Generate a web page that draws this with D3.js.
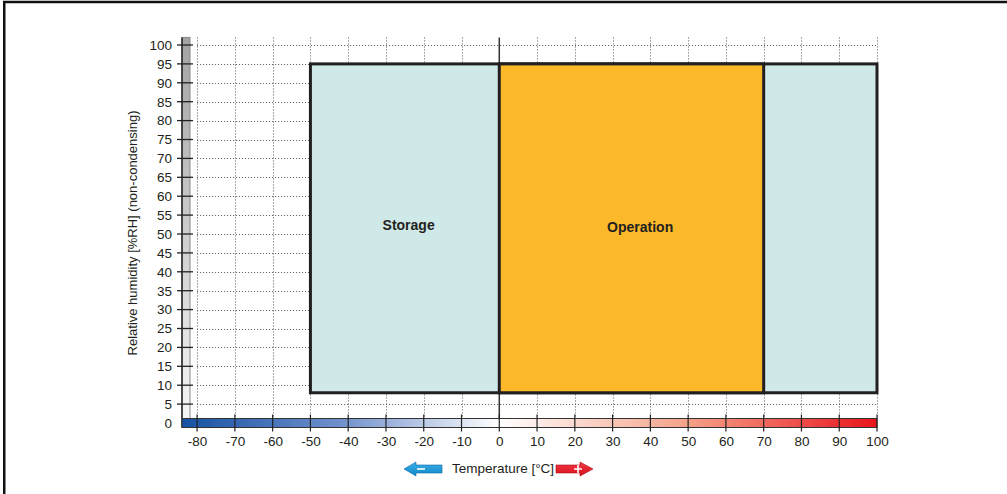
<!DOCTYPE html>
<html>
<head>
<meta charset="utf-8">
<script src="https://cdn.jsdelivr.net/npm/d3@7"></script>
<style>
  html, body { margin: 0; padding: 0; background: #fff; }
  svg { display: block; font-family: "Liberation Sans", Arial, Helvetica, sans-serif; }
</style>
</head>
<body>
<svg id="chart" width="1007" height="494"></svg>
<script>
// Climate envelope: temperature vs. relative humidity
const xTicks = [-80, -70, -60, -50, -40, -30, -20, -10, 0, 10, 20, 30, 40, 50, 60, 70, 80, 90, 100];
const yTicks = [0, 5, 10, 15, 20, 25, 30, 35, 40, 45, 50, 55, 60, 65, 70, 75, 80, 85, 90, 95, 100];
const zoneNames = ["Storage", "Operation"];
const zoneTempMin = [-50, 0];
const zoneTempMax = [100, 70];
const zoneHumMin = [8, 8];
const zoneHumMax = [95, 95];
const zoneLabelTemp = [-24, 37.3];
const zoneLabelHum = [52.1, 51.4];
const xTitle = "Temperature [°C]";
const yTitle = "Relative humidity [%RH] (non-condensing)";

const svg = d3.select("#chart");
const defs = svg.append("defs");

const x = d3.scaleLinear().domain([-84, 100]).range([182, 877]);
const y = d3.scaleLinear().domain([0, 100]).range([423, 45]);
const px = v => Math.round(v) + 0.5;   // snap hairlines to the pixel grid
const yTop = y(102);
const barY = y(0) - 4.5;
const fmt = d => String(d);

// outer frame (only top and left edges fall inside the canvas)
svg.append("rect")
  .attr("x", 4.25).attr("y", 2).attr("width", 1200).attr("height", 700)
  .attr("fill", "none").attr("stroke", "#111").attr("stroke-width", 2.5);

// gradients
const gGray = defs.append("linearGradient").attr("id", "gGray")
  .attr("x1", 0).attr("y1", 0).attr("x2", 0).attr("y2", 1);
gGray.append("stop").attr("offset", "0%").attr("stop-color", "#a3a3a3");
gGray.append("stop").attr("offset", "100%").attr("stop-color", "#f5f5f5");

const gTemp = defs.append("linearGradient").attr("id", "gTemp")
  .attr("x1", 0).attr("y1", 0).attr("x2", 1).attr("y2", 0);
const zeroOff = (x(0) - x(-84)) / (x(100) - x(-84));
gTemp.append("stop").attr("offset", 0).attr("stop-color", "#1652a3");
gTemp.append("stop").attr("offset", zeroOff * 0.5).attr("stop-color", "#7090cc");
gTemp.append("stop").attr("offset", zeroOff).attr("stop-color", "#ffffff");
gTemp.append("stop").attr("offset", zeroOff + (1 - zeroOff) * 0.5).attr("stop-color", "#f5a189");
gTemp.append("stop").attr("offset", 1).attr("stop-color", "#e8141c");

const gBlue = defs.append("linearGradient").attr("id", "gBlue")
  .attr("x1", 0).attr("y1", 0).attr("x2", 0).attr("y2", 1);
gBlue.append("stop").attr("offset", "0%").attr("stop-color", "#3fb0e8");
gBlue.append("stop").attr("offset", "100%").attr("stop-color", "#0d86c8");
const gRed = defs.append("linearGradient").attr("id", "gRed")
  .attr("x1", 0).attr("y1", 0).attr("x2", 0).attr("y2", 1);
gRed.append("stop").attr("offset", "0%").attr("stop-color", "#f03a45");
gRed.append("stop").attr("offset", "100%").attr("stop-color", "#d9111d");

// dotted grid
svg.append("g").selectAll("line").data(xTicks.filter(d => d !== 0)).join("line")
  .attr("x1", d => px(x(d))).attr("x2", d => px(x(d)))
  .attr("y1", yTop).attr("y2", barY)
  .attr("stroke", "#555").attr("stroke-width", 1).attr("stroke-dasharray", "1,2");
svg.append("g").selectAll("line").data(yTicks.filter(d => d > 0)).join("line")
  .attr("x1", x(-80)).attr("x2", x(100))
  .attr("y1", d => px(y(d))).attr("y2", d => px(y(d)))
  .attr("stroke", "#555").attr("stroke-width", 1).attr("stroke-dasharray", "1,2");

// zero line
svg.append("line")
  .attr("x1", x(0)).attr("x2", x(0)).attr("y1", yTop).attr("y2", barY)
  .attr("stroke", "#333").attr("stroke-width", 1.5);

// zones
const zoneFill = ["#cfe8e8", "#fbb829"];
const zones = zoneNames.map((n, i) => ({
  name: n, t0: zoneTempMin[i], t1: zoneTempMax[i], h0: zoneHumMin[i], h1: zoneHumMax[i],
  lt: zoneLabelTemp[i], lh: zoneLabelHum[i], fill: zoneFill[i]
}));
svg.append("g").selectAll("rect").data(zones).join("rect")
  .attr("x", d => x(d.t0)).attr("y", d => y(d.h1))
  .attr("width", d => x(d.t1) - x(d.t0)).attr("height", d => y(d.h0) - y(d.h1))
  .attr("fill", d => d.fill).attr("stroke", "#231f20").attr("stroke-width", 3);
svg.append("g").selectAll("text").data(zones).join("text")
  .attr("x", d => x(d.lt)).attr("y", d => y(d.lh))
  .attr("text-anchor", "middle").attr("dominant-baseline", "middle")
  .attr("font-size", 14).attr("font-weight", "bold").attr("fill", "#231f20")
  .text(d => d.name);

// humidity axis: gray bar, ticks, labels
svg.append("rect")
  .attr("x", x(-84)).attr("y", yTop).attr("width", 8).attr("height", barY - yTop)
  .attr("fill", "url(#gGray)").attr("stroke", "#8a8a8a").attr("stroke-width", 1);
svg.append("line")
  .attr("x1", x(-84)).attr("x2", x(-84)).attr("y1", yTop).attr("y2", barY + 9)
  .attr("stroke", "#222").attr("stroke-width", 1.5);
const yAxis = d3.axisLeft(y).tickValues(yTicks).tickFormat(fmt).tickSize(0).tickPadding(0);
const yg = svg.append("g").attr("transform", `translate(${x(-84) - 10},0)`).call(yAxis);
yg.select(".domain").remove();
yg.selectAll("text").attr("font-size", 13.5).attr("fill", "#231f20")
  .attr("font-family", "'Liberation Sans', Arial, sans-serif");
svg.append("g").selectAll("line").data(yTicks.filter(d => d > 0)).join("line")
  .attr("x1", x(-84) - 5).attr("x2", x(-84) + 11)
  .attr("y1", d => y(d)).attr("y2", d => y(d))
  .attr("stroke", "#222").attr("stroke-width", 1.3);

// temperature axis: colour bar, ticks, labels
svg.append("rect")
  .attr("x", x(-84)).attr("y", barY).attr("width", x(100) - x(-84)).attr("height", 9)
  .attr("fill", "url(#gTemp)").attr("stroke", "#333").attr("stroke-width", 1);
svg.append("g").selectAll("line").data(xTicks).join("line")
  .attr("x1", d => x(d)).attr("x2", d => x(d))
  .attr("y1", barY - 4).attr("y2", barY + 13)
  .attr("stroke", "#222").attr("stroke-width", 1.2);
const xAxis = d3.axisBottom(x).tickValues(xTicks).tickFormat(fmt).tickSize(0).tickPadding(0);
const xg = svg.append("g").attr("transform", `translate(0,${barY + 18})`).call(xAxis);
xg.select(".domain").remove();
xg.selectAll("text").attr("font-size", 13.5).attr("fill", "#231f20")
  .attr("font-family", "'Liberation Sans', Arial, sans-serif");

// axis titles
svg.append("text")
  .attr("transform", `translate(137,${(y(0) + y(100)) / 2 - 1}) rotate(-90)`)
  .attr("text-anchor", "middle").attr("font-size", 13).attr("fill", "#231f20")
  .text(yTitle);
svg.append("text")
  .attr("x", 503).attr("y", 473).attr("text-anchor", "middle")
  .attr("font-size", 13.5).attr("fill", "#231f20")
  .text(xTitle);

// direction arrows beside the temperature title
const cy = 469;
svg.append("path")
  .attr("d", `M404,${cy} L416,${cy - 7} L416,${cy - 4} L442,${cy - 4} L442,${cy + 4} L416,${cy + 4} L416,${cy + 7} Z`)
  .attr("fill", "url(#gBlue)").attr("stroke", "#0a6aa8").attr("stroke-width", 0.6);
svg.append("line").attr("x1", 417).attr("x2", 425).attr("y1", cy).attr("y2", cy)
  .attr("stroke", "#fff").attr("stroke-width", 1.6);
svg.append("path")
  .attr("d", `M556,${cy - 4} L580,${cy - 4} L580,${cy - 7} L593,${cy} L580,${cy + 7} L580,${cy + 4} L556,${cy + 4} Z`)
  .attr("fill", "url(#gRed)").attr("stroke", "#a80d14").attr("stroke-width", 0.6);
svg.append("path").attr("d", `M574,${cy} L582,${cy} M578,${cy - 4} L578,${cy + 4}`)
  .attr("stroke", "#fff").attr("stroke-width", 1.6);
</script>
</body>
</html>
